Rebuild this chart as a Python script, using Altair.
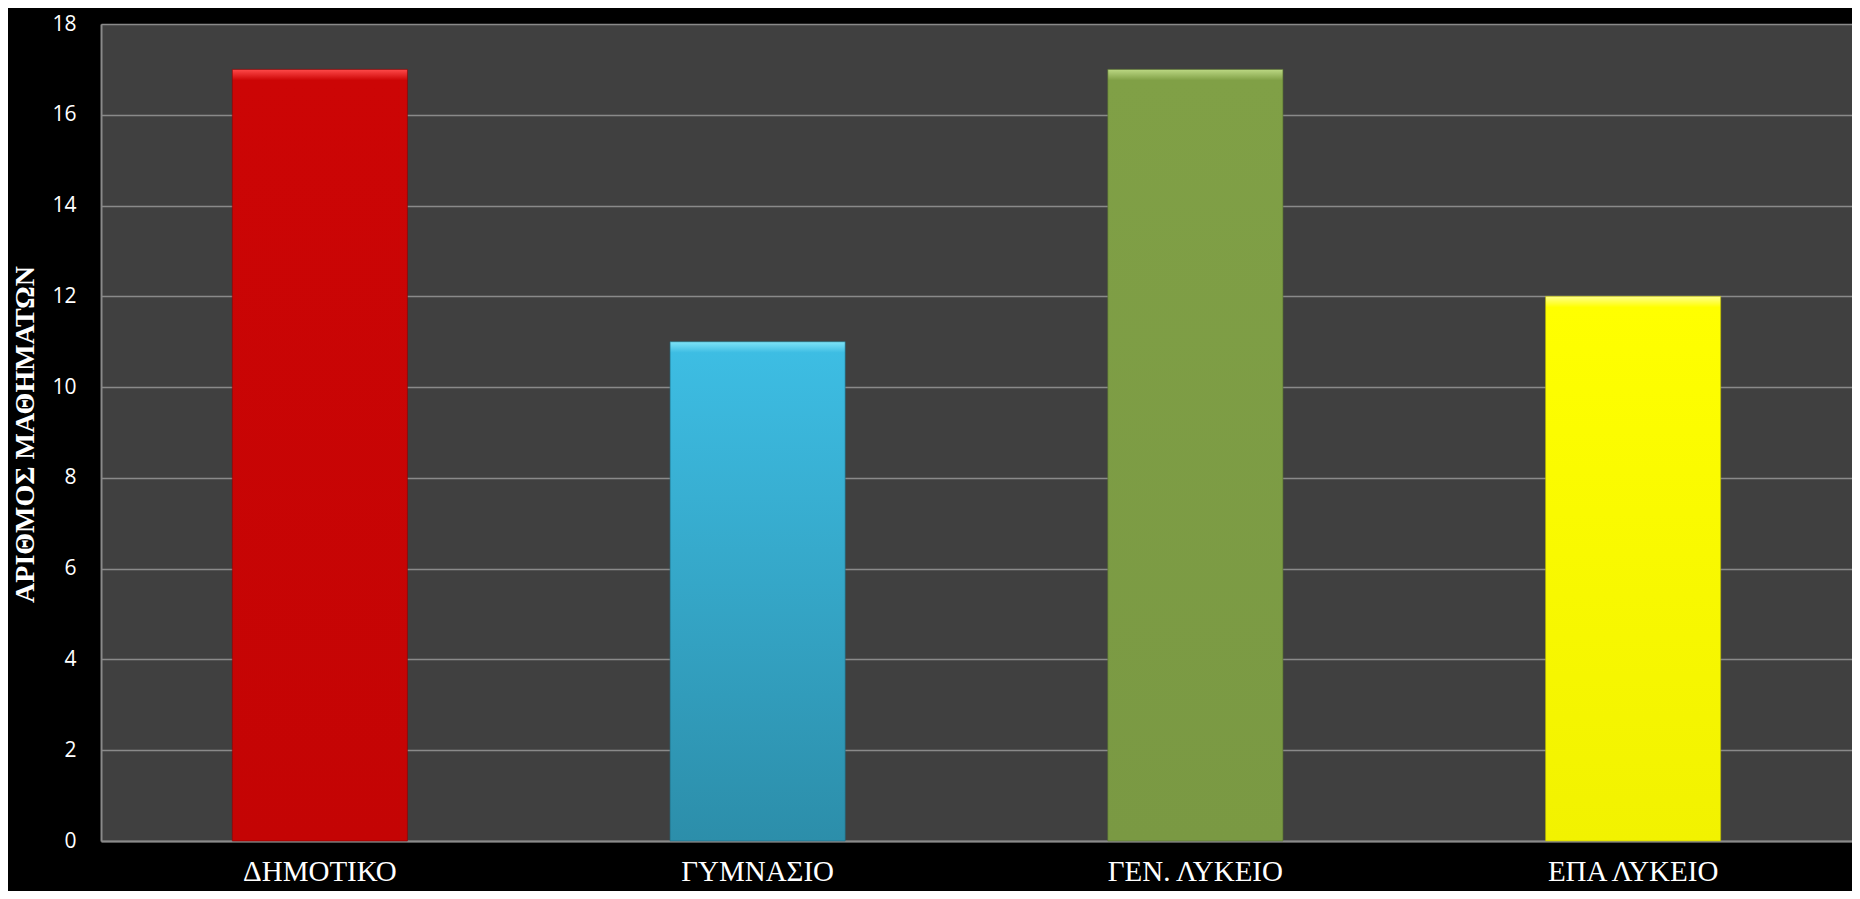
import altair as alt
import pandas as pd

categories = ["ΔΗΜΟΤΙΚΟ", "ΓΥΜΝΑΣΙΟ", "ΓΕΝ. ΛΥΚΕΙΟ", "ΕΠΑ ΛΥΚΕΙΟ"]
values = [17, 11, 17, 12]
# (highlight, top, bottom, edge)
bar_colors = [
    ("#ff4a4a", "#cc0505", "#c40404", "#8c0000"),
    ("#7fe3f7", "#3dbde3", "#2c8eaa", "#1f6f86"),
    ("#bcd884", "#80a046", "#7a9943", "#5c7632"),
    ("#ffff8c", "#ffff00", "#f2f200", "#b8b800"),
]

title_y = "ΑΡΙΘΜΟΣ ΜΑΘΗΜΑΤΩΝ"
y_max = 18
plot_w, plot_h = 1751, 817

df = pd.DataFrame({"category": categories, "value": values})

x_enc = alt.X(
    "category:N",
    sort=categories,
    scale=alt.Scale(domain=categories, paddingInner=0.6, paddingOuter=0.3),
    axis=alt.Axis(
        title=None, labelAngle=0, ticks=False, labelPadding=39,
        labelBaseline="alphabetic",
        labelFont="Liberation Serif", labelFontSize=29, labelColor="white",
        domainColor="#8a8a8a", domainWidth=2, grid=False,
    ),
)
y_enc = alt.Y(
    "value:Q",
    scale=alt.Scale(domain=[0, y_max], nice=False),
    axis=alt.Axis(
        title=title_y, values=list(range(0, y_max + 1, 2)), ticks=False,
        labelPadding=25, labelFont="Open Sans", labelFontSize=21, labelColor="white",
        titleFont="Liberation Serif", titleFontWeight="bold", titleFontSize=28,
        titleColor="white", titleBaseline="alphabetic", titleX=-68, titleY=410,
        titleAngle=-90, titleAlign="center",
        domainColor="#8a8a8a", domainWidth=2,
        grid=True, gridColor="#8a8a8a", gridWidth=1.5,
    ),
)

layers = []
for cat, val, (hi, top, bot, edge) in zip(categories, values, bar_colors):
    px = val * plot_h / y_max
    off = min(0.5, 11.0 / px)
    grad = alt.Gradient(
        gradient="linear", x1=0, x2=0, y1=0, y2=1,
        stops=[
            alt.GradientStop(color=hi, offset=0),
            alt.GradientStop(color=top, offset=off),
            alt.GradientStop(color=bot, offset=1),
        ],
    )
    layers.append(
        alt.Chart(df)
        .transform_filter(alt.datum.category == cat)
        .mark_bar(color=grad, stroke=edge, strokeWidth=1, strokeOpacity=0.6)
        .encode(x=x_enc, y=y_enc)
    )

chart = (
    alt.layer(*layers)
    .properties(
        width=plot_w, height=plot_h,
        autosize=alt.AutoSizeParams(type="none"),
        padding={"left": 93, "top": 16, "right": 0, "bottom": 50},
        background="black",
    )
    .configure_view(fill="#404040", stroke=None)
)

chart.save("out.html", embed_options={"renderer": "svg", "actions": False})
